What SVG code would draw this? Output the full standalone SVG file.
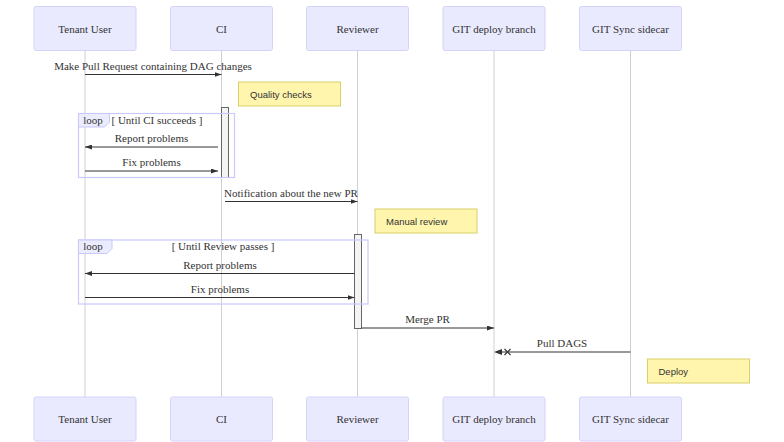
<svg xmlns="http://www.w3.org/2000/svg" width="784" height="442" viewBox="0 0 784 442">
<defs>
<style>
.actor{fill:#eaeaff;stroke:#d4d4fb;stroke-width:1}
.atext{font-size:11px;fill:#333;text-anchor:middle}
.life{stroke:#d0d0d0;stroke-width:1}
.msg{stroke:#333;stroke-width:1;fill:none}
.mtext{font-size:11px;fill:#333;text-anchor:middle}
.note{fill:#fff5ad;stroke:#d8d06a;stroke-width:1}
.ntext{font-size:9.5px;fill:#333}
.act{fill:#f4f4f4;stroke:#666;stroke-width:1}
.loop{fill:none;stroke:#c8c8ff;stroke-width:1.2}
.lbox{fill:#ececff;stroke:#c8c8ff;stroke-width:1}
.ltext{font-size:11px;fill:#333}
</style>
<marker id="arrow" viewBox="0 0 10 10" refX="10" refY="5" markerWidth="7" markerHeight="5" markerUnits="userSpaceOnUse" orient="auto" preserveAspectRatio="none">
<path d="M0,0 L10,5 L0,10 z" fill="#333"/>
</marker>
</defs>
<rect width="784" height="442" fill="#fff"/>
<g id="lifelines">
<line class="life" x1="85" y1="50" x2="85" y2="397"/>
<line class="life" x1="221.5" y1="50" x2="221.5" y2="397"/>
<line class="life" x1="357.5" y1="50" x2="357.5" y2="397"/>
<line class="life" x1="494" y1="50" x2="494" y2="397"/>
<line class="life" x1="630.5" y1="50" x2="630.5" y2="397"/>
</g>
<g font-family="Liberation Serif, DejaVu Serif, serif">
<g id="actor-tenant">
<rect class="actor" x="34" y="6.5" width="102" height="44" rx="2"/>
<text class="atext" x="85" y="32.5">Tenant User</text>
<rect class="actor" x="34" y="397" width="102" height="44" rx="2"/>
<text class="atext" x="85" y="423">Tenant User</text>
</g>
<g id="actor-ci">
<rect class="actor" x="170.5" y="6.5" width="102" height="44" rx="2"/>
<text class="atext" x="221.5" y="32.5">CI</text>
<rect class="actor" x="170.5" y="397" width="102" height="44" rx="2"/>
<text class="atext" x="221.5" y="423">CI</text>
</g>
<g id="actor-reviewer">
<rect class="actor" x="306.5" y="6.5" width="102" height="44" rx="2"/>
<text class="atext" x="357.5" y="32.5">Reviewer</text>
<rect class="actor" x="306.5" y="397" width="102" height="44" rx="2"/>
<text class="atext" x="357.5" y="423">Reviewer</text>
</g>
<g id="actor-gitdeploy">
<rect class="actor" x="443" y="6.5" width="102" height="44" rx="2"/>
<text class="atext" x="494" y="32.5">GIT deploy branch</text>
<rect class="actor" x="443" y="397" width="102" height="44" rx="2"/>
<text class="atext" x="494" y="423">GIT deploy branch</text>
</g>
<g id="actor-gitsync">
<rect class="actor" x="579.5" y="6.5" width="102" height="44" rx="2"/>
<text class="atext" x="630.5" y="32.5">GIT Sync sidecar</text>
<rect class="actor" x="579.5" y="397" width="102" height="44" rx="2"/>
<text class="atext" x="630.5" y="423">GIT Sync sidecar</text>
</g>
<g id="activations">
<rect class="act" x="221.5" y="107.5" width="7" height="70"/>
<rect class="act" x="354.5" y="234.5" width="7" height="94"/>
</g>
<g id="note-quality">
<rect class="note" x="238.5" y="82" width="102" height="24"/>
<text class="ntext" font-family="Liberation Sans, Arial, sans-serif" x="250" y="97.5">Quality checks</text>
</g>
<g id="note-manual">
<rect class="note" x="375" y="209" width="102" height="24"/>
<text class="ntext" font-family="Liberation Sans, Arial, sans-serif" x="386" y="224.5">Manual review</text>
</g>
<g id="note-deploy">
<rect class="note" x="647.5" y="359" width="102" height="24"/>
<text class="ntext" font-family="Liberation Sans, Arial, sans-serif" x="658.5" y="374.5">Deploy</text>
</g>
<g id="loop-ci">
<rect class="loop" x="78.5" y="113.5" width="156" height="64"/>
<polygon class="lbox" points="78.5,113.5 109.5,113.5 109.5,122 104.5,127 78.5,127"/>
<text class="ltext" x="93" y="123.5" text-anchor="middle">loop</text>
<text class="ltext" x="157" y="123.5" text-anchor="middle">[ Until CI succeeds ]</text>
</g>
<g id="loop-review">
<rect class="loop" x="78.5" y="240" width="289.5" height="64"/>
<polygon class="lbox" points="78.5,240 112,240 112,248.5 107,253.5 78.5,253.5"/>
<text class="ltext" x="93" y="250" text-anchor="middle">loop</text>
<text class="ltext" x="223" y="250" text-anchor="middle">[ Until Review passes ]</text>
</g>
<g id="connectors">
<text class="mtext" x="153" y="70">Make Pull Request containing DAG changes</text>
<line class="msg" x1="85" y1="74.5" x2="221.5" y2="74.5" marker-end="url(#arrow)"/>
<text class="mtext" x="151.5" y="142">Report problems</text>
<line class="msg" x1="218" y1="147" x2="85" y2="147" marker-end="url(#arrow)"/>
<text class="mtext" x="151.5" y="166">Fix problems</text>
<line class="msg" x1="85" y1="171" x2="218" y2="171" marker-end="url(#arrow)"/>
<text class="mtext" x="291" y="197">Notification about the new PR</text>
<line class="msg" x1="225" y1="201.5" x2="357.5" y2="201.5" marker-end="url(#arrow)"/>
<text class="mtext" x="220" y="269">Report problems</text>
<line class="msg" x1="354.5" y1="273.5" x2="85" y2="273.5" marker-end="url(#arrow)"/>
<text class="mtext" x="220" y="293">Fix problems</text>
<line class="msg" x1="85" y1="297.5" x2="354.5" y2="297.5" marker-end="url(#arrow)"/>
<text class="mtext" x="427.5" y="323">Merge PR</text>
<line class="msg" x1="361.5" y1="328" x2="494" y2="328" marker-end="url(#arrow)"/>
<text class="mtext" x="562" y="347">Pull DAGS</text>
<line class="msg" x1="630.5" y1="352" x2="502" y2="352"/>
<path d="M494,352 L502,349 L502,355 z" fill="#333"/>
<path d="M504.5,349 L510.5,355 M510.5,349 L504.5,355" stroke="#333" stroke-width="1.2"/>
</g>
</g>
</svg>
